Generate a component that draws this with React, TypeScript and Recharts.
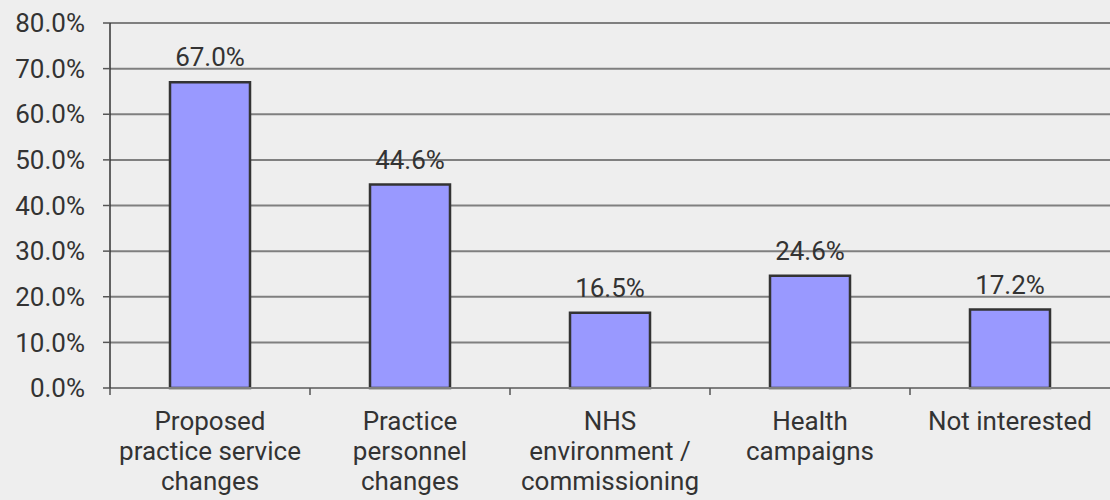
import { Bar, BarChart, CartesianGrid, LabelList, XAxis, YAxis } from "recharts";

const categories = [
	"Proposed\npractice service\nchanges",
	"Practice\npersonnel\nchanges",
	"NHS\nenvironment /\ncommissioning",
	"Health\ncampaigns",
	"Not interested",
];
const values = [67.0, 44.6, 16.5, 24.6, 17.2];
const yTicks = [0, 10, 20, 30, 40, 50, 60, 70, 80];

const data = categories.map((name, i) => ({ name, value: values[i] }));

const W = 1110;
const H = 500;
const LEFT = 110;
const BAND = (W - LEFT) / categories.length;
const FONT = "Roboto, 'Liberation Sans', sans-serif";
const FS = 26;
const TEXT = "#333333";

const pct = (v: number) => `${Number(v).toFixed(1)}%`;

function CategoryTick(props: any) {
	const { x, y, payload } = props;
	const lines = String(payload.value).split("\n");
	return (
		<g>
			<line x1={x - BAND / 2} x2={x - BAND / 2} y1={y} y2={y + 7} stroke="#555" strokeWidth={1.5} />
			<text x={x} y={y + 42} textAnchor="middle" fill={TEXT} fontSize={FS} fontFamily={FONT}>
				{lines.map((l, i) => (
					<tspan key={i} x={x} dy={i === 0 ? 0 : 30}>
						{l}
					</tspan>
				))}
			</text>
		</g>
	);
}

export default function App() {
	return (
		<div style={{ position: "absolute", left: 0, top: 0, width: W, height: H, background: "#eeeeee" }}>
			<BarChart
				width={W}
				height={H}
				data={data}
				margin={{ top: 23, right: 0, left: 0, bottom: 0 }}
				barCategoryGap={0}
			>
				<CartesianGrid vertical={false} stroke="#7f7f7f" strokeWidth={2} />
				<XAxis
					dataKey="name"
					height={112}
					interval={0}
					tickLine={false}
					tickSize={0}
					tickMargin={0}
					axisLine={{ stroke: "#7f7f7f", strokeWidth: 2 }}
					tick={<CategoryTick />}
				/>
				<YAxis
					width={LEFT}
					domain={[0, 80]}
					ticks={yTicks}
					interval={0}
					tickFormatter={pct}
					tickSize={7}
					tickMargin={18}
					tickLine={{ stroke: "#555", strokeWidth: 1.5 }}
					axisLine={{ stroke: "#333", strokeWidth: 1.5 }}
					tick={{ fill: TEXT, fontSize: FS, fontFamily: FONT }}
				/>
				<Bar
					dataKey="value"
					barSize={80}
					fill="#9999ff"
					stroke="#333333"
					strokeWidth={2.5}
					isAnimationActive={false}
				>
					<LabelList
						dataKey="value"
						position="top"
						offset={16}
						formatter={(v: any) => pct(v)}
						fill={TEXT}
						fontSize={FS}
						fontFamily={FONT}
					/>
				</Bar>
			</BarChart>
		</div>
	);
}
